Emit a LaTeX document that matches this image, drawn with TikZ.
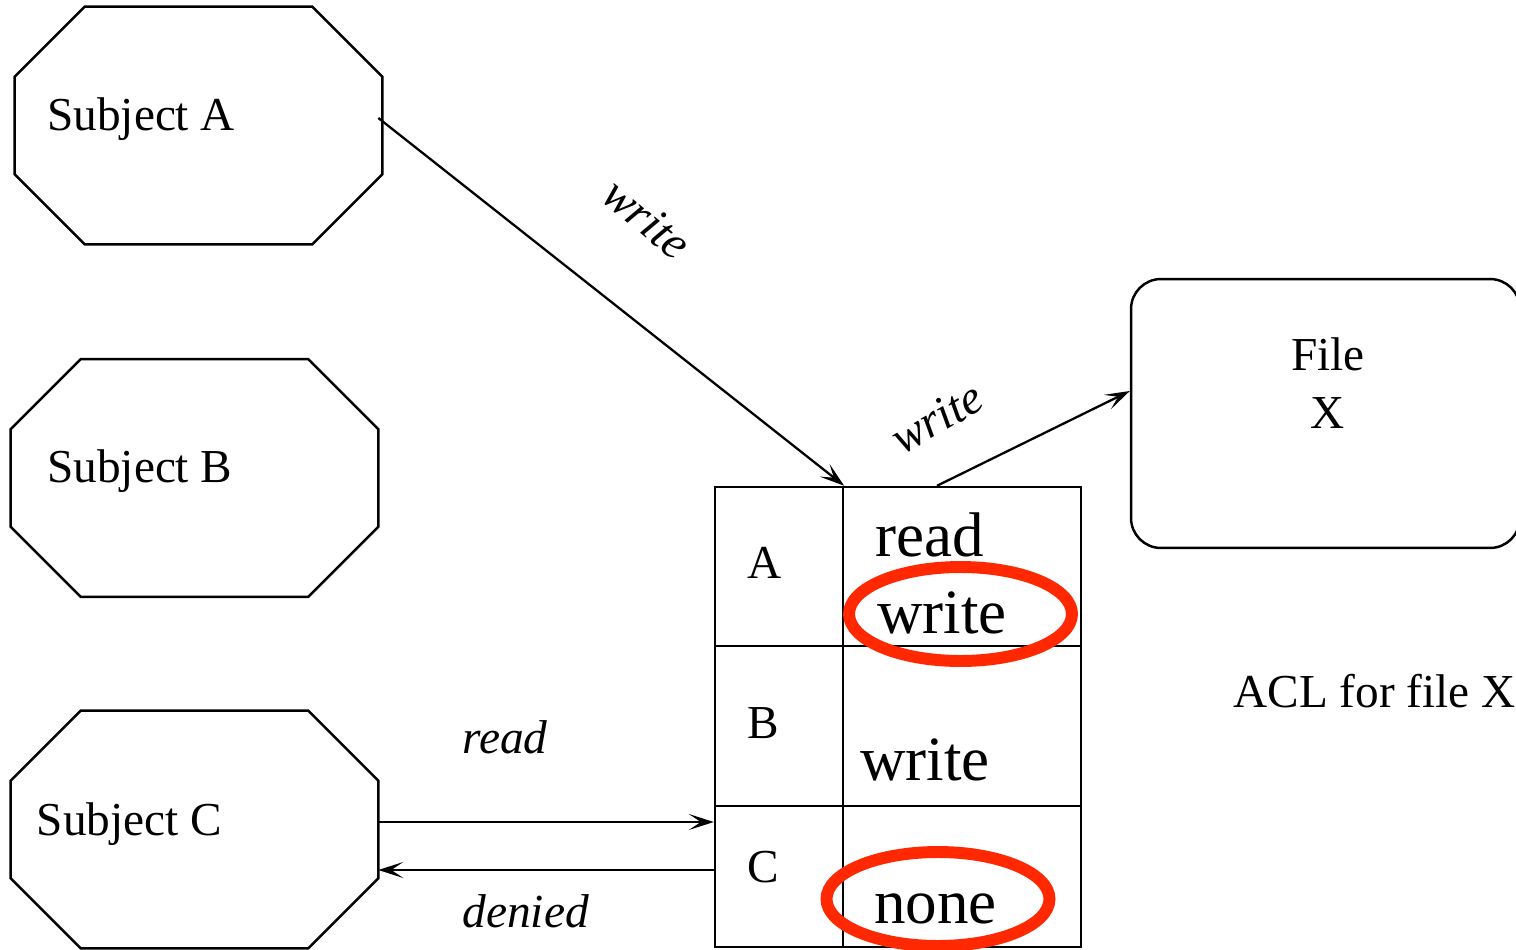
\documentclass[tikz,border=0pt]{standalone}
\usepackage{fontspec}
\setmainfont{Liberation Serif}
\usetikzlibrary{arrows.meta,calc,shapes.geometric}

\definecolor{ringred}{RGB}{255,40,0}

% chamfered outline around a named rectangular node
\newcommand\octagonpath[1]{%
  \draw[shapeline]
    ([xshift=1.4cm]#1.north west) -- ([xshift=-1.4cm]#1.north east)
    -- ([yshift=-1.4cm]#1.north east) -- ([yshift=1.4cm]#1.south east)
    -- ([xshift=-1.4cm]#1.south east) -- ([xshift=1.4cm]#1.south west)
    -- ([yshift=1.4cm]#1.south west) -- ([yshift=-1.4cm]#1.north west)
    -- cycle;}

\tikzset{
  shapeline/.style={line width=1.4pt, line join=miter},
  subject/.style={draw=none, inner sep=0pt, minimum width=7.34cm, minimum height=4.74cm},
  txt/.style={inner sep=0pt, font=\fontsize{26.9}{30}\selectfont},
  bigtxt/.style={inner sep=0pt, font=\fontsize{35.9}{40}\selectfont},
  edgelabel/.style={inner sep=0pt, font=\fontsize{27}{30}\selectfont\itshape},
  cell/.style={draw, line width=1.4pt, inner sep=0pt},
  filebox/.style={draw, line width=1.4pt, rounded corners=0.6cm, minimum width=7.78cm, minimum height=5.38cm},
  ring/.style={draw=ringred, line width=6.8pt, ellipse, inner sep=0pt, minimum width=4.46cm, minimum height=1.88cm},
  conn/.style={line width=1.3pt, -{Stealth[length=0.5cm, width=0.32cm, inset=0.24cm]}},
}

\begin{document}
\begin{tikzpicture}[x=0.02cm, y=-0.02cm]
  \useasboundingbox (0,0) rectangle (1516,950);

  % subjects
  \node[subject] (subjA) at (198.5,125.5) {};
  \node[subject] (subjB) at (194.5,478) {};
  \node[subject] (subjC) at (194.5,829.5) {};
  \octagonpath{subjA}
  \octagonpath{subjB}
  \octagonpath{subjC}
  \node[txt, anchor=base west] (labA) at (47,130) {Subject A};
  \node[txt, anchor=base west] (labB) at (47,482) {Subject B};
  \node[txt, anchor=base west] (labC) at (36.5,835) {Subject C};

  % file object
  \node[filebox] (fileX) at (1325.5,413.5) {};
  \node[txt, anchor=base] (fileT) at (1328,370) {File};
  \node[txt, anchor=base] (fileN) at (1328,428) {X};

  % access control list
  \node[cell, minimum width=2.56cm, minimum height=3.18cm] (rowA) at (779,566.5) {};
  \node[cell, minimum width=4.76cm, minimum height=3.18cm] (rightA) at (962,566.5) {};
  \node[cell, minimum width=2.56cm, minimum height=3.2cm] (rowB) at (779,726) {};
  \node[cell, minimum width=4.76cm, minimum height=3.2cm] (rightB) at (962,726) {};
  \node[cell, minimum width=2.56cm, minimum height=2.82cm] (rowC) at (779,876.5) {};
  \node[cell, minimum width=4.76cm, minimum height=2.82cm] (rightC) at (962,876.5) {};

  \node[txt, anchor=base west] (keyA) at (747,578) {A};
  \node[txt, anchor=base west] (keyB) at (747,738) {B};
  \node[txt, anchor=base west] (keyC) at (747,882) {C};
  \node[bigtxt, anchor=base west] (permAr) at (875,556) {read};
  \node[bigtxt, anchor=base west] (permAw) at (877,633) {write};
  \node[bigtxt, anchor=base west] (permBw) at (860,780) {write};
  \node[bigtxt, anchor=base west] (permCn) at (874,923) {none};

  \node[ring] (ring1) at (960.5,614) {};
  \node[ring] (ring2) at (938,899) {};

  \node[txt, anchor=base west] (acl) at (1233,707) {ACL for file X};

  % requests and replies
  \coordinate (aOut) at ($(subjA.east)+(-4,-7.5)$);
  \draw[conn] (aOut) -- (rowA.north east);
  \node[edgelabel, rotate=-40] (w1) at (647,219) {write};

  \coordinate (tblOut) at ($(rightA.north)+(-25,0)$);
  \coordinate (fileIn) at ($(fileX.west)+(0,-22.5)$);
  \draw[conn] (tblOut) -- (fileIn);
  \node[edgelabel, rotate=30] (w2) at (937,418) {write};

  \coordinate (cOut) at ($(subjC.east)+(0,-7.5)$);
  \coordinate (tblIn) at ($(rowC.west)+(0,-54.5)$);
  \draw[conn] (cOut) -- (tblIn);
  \node[edgelabel, anchor=base west] (rd) at (462,753) {read};

  \coordinate (tblRet) at ($(rowC.west)+(0,-6.5)$);
  \coordinate (cIn) at ($(subjC.east)+(0,40.5)$);
  \draw[conn] (tblRet) -- (cIn);
  \node[edgelabel, anchor=base west] (dn) at (462,927) {denied};
\end{tikzpicture}
\end{document}
